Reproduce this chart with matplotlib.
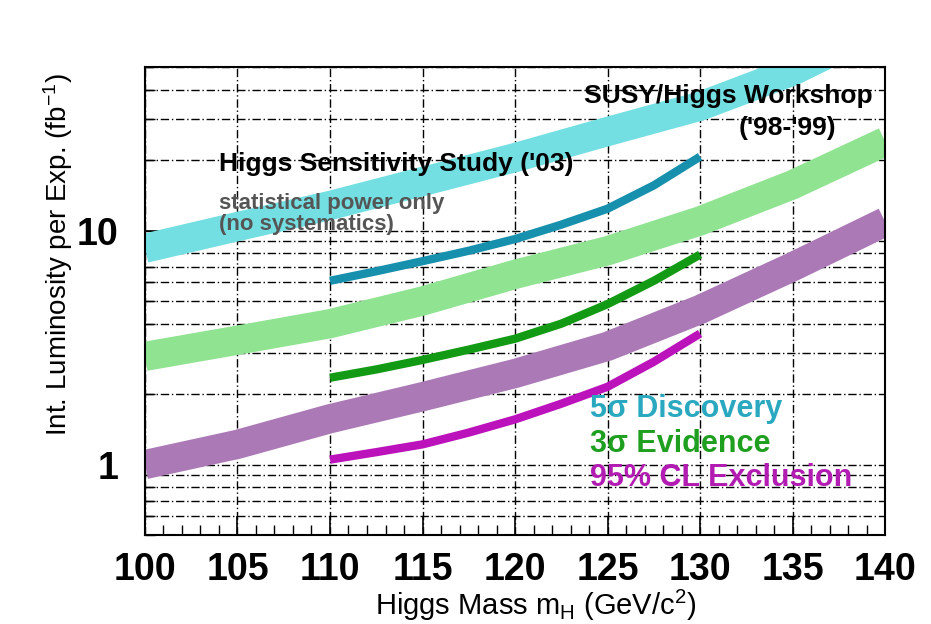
import numpy as np
import matplotlib
matplotlib.use("Agg")
import matplotlib.pyplot as plt
from matplotlib.ticker import MultipleLocator, LogLocator, NullFormatter, FuncFormatter

plt.rcParams['font.family'] = ['Liberation Sans', 'DejaVu Sans']
plt.rcParams['mathtext.fontset'] = 'custom'
plt.rcParams['mathtext.rm'] = 'Liberation Sans'
plt.rcParams['mathtext.it'] = 'Liberation Sans:italic'
plt.rcParams['mathtext.bf'] = 'Liberation Sans:bold'

# SUSY/Higgs Workshop ('98-'99) bands, 100..140 GeV
mass_ws = [100, 105, 110, 115, 120, 125, 130, 135, 140]
disc_ws = [8.4, 10.4, 12.8, 16.2, 20.5, 26.5, 34.0, 48.0, 75.0]
evid_ws = [2.9, 3.4, 4.0, 5.0, 6.5, 8.2, 11.0, 15.7, 24.0]
excl_ws = [1.0, 1.22, 1.57, 1.95, 2.45, 3.2, 4.6, 7.0, 10.9]

# Higgs Sensitivity Study ('03) curves, 110..130 GeV
mass_03 = [110, 112.5, 115, 117.5, 120, 122.5, 125, 127.5, 130]
disc_03 = [6.1, 6.7, 7.4, 8.2, 9.2, 10.6, 12.4, 15.6, 20.7]
evid_03 = [2.35, 2.55, 2.8, 3.1, 3.45, 4.0, 4.85, 6.1, 7.9]
excl_03 = [1.05, 1.13, 1.22, 1.37, 1.56, 1.82, 2.15, 2.75, 3.63]

fig = plt.figure(figsize=(9.31, 6.24), dpi=100)
ax = fig.add_axes([0.1557, 0.1426, 0.795, 0.7500])

grid_ls = (0, (6, 2, 1, 2))

# wide bands (workshop)
band_lw = 21
ax.plot(mass_ws, disc_ws, color='#74dfe2', lw=band_lw, solid_capstyle='butt',
        solid_joinstyle='round', zorder=2)
ax.plot(mass_ws, evid_ws, color='#8fe391', lw=band_lw, solid_capstyle='butt',
        solid_joinstyle='round', zorder=2)
ax.plot(mass_ws, excl_ws, color='#ab7ab6', lw=band_lw, solid_capstyle='butt',
        solid_joinstyle='round', zorder=2)

# thin curves ('03 study)
line_lw = 6
ax.plot(mass_03, disc_03, color='#1690ac', lw=line_lw, solid_capstyle='butt',
        solid_joinstyle='round', zorder=3)
ax.plot(mass_03, evid_03, color='#129a14', lw=line_lw, solid_capstyle='butt',
        solid_joinstyle='round', zorder=3)
ax.plot(mass_03, excl_03, color='#bb12bb', lw=line_lw, solid_capstyle='butt',
        solid_joinstyle='round', zorder=3)

ax.set_yscale('log')
ax.set_xlim(100, 140)
ax.set_ylim(0.5, 50)

ax.xaxis.set_major_locator(MultipleLocator(5))
ax.xaxis.set_minor_locator(MultipleLocator(1))
ax.yaxis.set_major_locator(LogLocator(base=10))
ax.yaxis.set_minor_locator(LogLocator(base=10, subs=np.arange(2, 10)))
ax.yaxis.set_minor_formatter(NullFormatter())
ax.yaxis.set_major_formatter(FuncFormatter(lambda v, p: '%g' % v))

ax.grid(True, axis='x', which='major', color='black', ls=grid_ls, lw=1.0, zorder=1)
ax.grid(True, axis='y', which='both', color='black', ls=grid_ls, lw=1.0, zorder=1)
ax.set_axisbelow(True)

ax.tick_params(axis='both', which='major', direction='in', length=14, width=1.2,
               top=False, right=False, labelsize=27)
ax.tick_params(axis='x', which='major', pad=12)
ax.tick_params(axis='y', which='major', pad=19)
ax.tick_params(axis='both', which='minor', direction='in', length=7, width=1.0,
               top=False, right=False)
for lab in ax.get_xticklabels() + ax.get_yticklabels():
    lab.set_fontweight('bold')
for sp in ax.spines.values():
    sp.set_linewidth(1.5)

ax.set_xlabel(r'Higgs Mass m$_\mathregular{H}$ (GeV/c$^\mathregular{2}$)', fontsize=21)
ax.xaxis.set_label_coords(0.528, -0.112)
ax.set_ylabel(r'Int. Luminosity per Exp. (fb$^\mathregular{-1}$)', fontsize=20)
ax.yaxis.set_label_coords(-0.094, 0.6)

ax.text(139.3, 37.5, 'SUSY/Higgs Workshop', fontsize=19, fontweight='bold', ha='right', va='center')
ax.text(134.7, 27.5, "('98-'99)", fontsize=19, fontweight='bold', ha='center', va='center')
ax.text(104, 19.3, "Higgs Sensitivity Study ('03)", fontsize=19, fontweight='bold',
        ha='left', va='center')
ax.text(104, 13.1, 'statistical power only', fontsize=16, fontweight='bold', color='#555555',
        ha='left', va='center')
ax.text(104, 10.6, '(no systematics)', fontsize=16, fontweight='bold', color='#555555',
        ha='left', va='center')

ax.text(124.05, 1.72, '5σ Discovery', fontsize=22, fontweight='bold', color='#2aa8c0',
        ha='left', va='center')
ax.text(124.05, 1.23, '3σ Evidence', fontsize=22, fontweight='bold', color='#1f9f1f',
        ha='left', va='center')
ax.text(124.05, 0.875, '95% CL Exclusion', fontsize=22, fontweight='bold', color='#b21cb2',
        ha='left', va='center')

fig.savefig('out.png', dpi=100)
